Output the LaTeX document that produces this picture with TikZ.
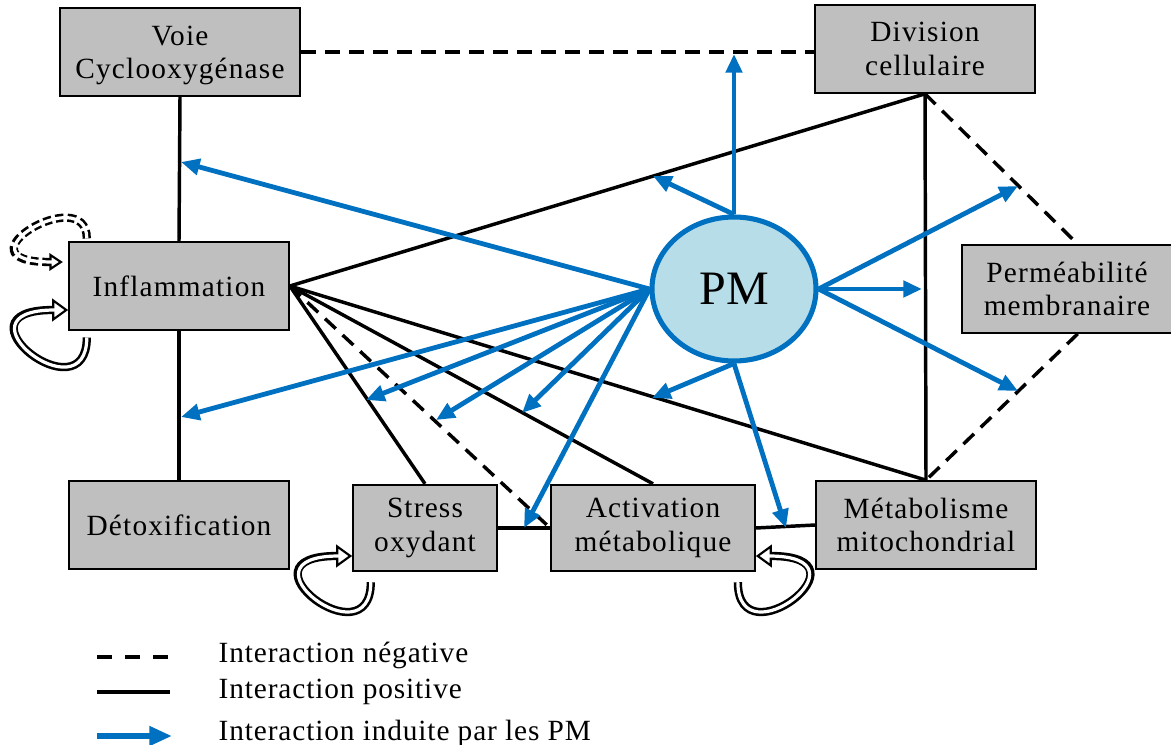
\documentclass[tikz,border=0pt]{standalone}
\usepackage{fontspec}
\setmainfont{Liberation Serif}[LetterSpace=4]
\newfontfamily\pmfont{Liberation Serif}
\usetikzlibrary{shapes.geometric, arrows.meta, positioning, calc}
\definecolor{cBox}{HTML}{BFBFBF}
\definecolor{cBlue}{HTML}{0070C0}
\definecolor{cPM}{HTML}{B7DDE8}
\tikzset{
  procbox/.style={
    draw=black, fill=cBox, line width=1.3pt,
    minimum width=#1, minimum height=66pt,
    font=\fontsize{22}{25}\selectfont, align=center, inner sep=2pt,
  },
  procbox/.default=165pt,
  pmnode/.style={
    ellipse, draw=cBlue, fill=cPM, line width=3.8pt,
    minimum width=123pt, minimum height=108pt,
    font=\pmfont\fontsize{36}{40}\selectfont,
  },
  posline/.style={line width=2.6pt},
  negline/.style={line width=2.6pt, dash pattern=on 11pt off 7pt},
  pmarrow/.style={line width=3.6pt, color=cBlue, -{Triangle[length=14pt, width=12pt]}},
  selfloop/.style={draw=white, line width=2.4pt, shorten >=10pt,
    preaction={draw=black, line width=6.2pt, shorten >=0pt,
      -{Triangle[open, length=12pt, width=17pt, line width=1.6pt, fill=white]}}},
  negloop/.style={draw=white, line width=2.4pt, shorten >=8pt,
    preaction={draw=black, line width=6.2pt, shorten >=0pt, dash pattern=on 6pt off 3pt,
      -{Triangle[open, length=10pt, width=13pt, line width=1.6pt, fill=white]}}},
  loopleft/.style={to path={.. controls +(0,80) and +(-120,0) .. (\tikztotarget)}},
  loopup/.style={to path={.. controls +(0,-58) and +(-112,0) .. (\tikztotarget)}},
  loopright/.style={to path={.. controls +(0,80) and +(120,0) .. (\tikztotarget)}},
  legtext/.style={anchor=west, font=\addfontfeatures{LetterSpace=3}\fontsize{22}{26}\selectfont},
}

\begin{document}
\begin{tikzpicture}[x=0.75pt, y=-0.75pt]
  \useasboundingbox (0,0) rectangle (1171,745);

  % Boxes
  \node[procbox=180pt, text depth=0pt] (cox) at (180,52) {Voie\\Cyclooxygénase};
  \node[procbox] (div) at (925,49) {Division\\cellulaire};
  \node[procbox] (infl) at (179,286) {Inflammation};
  \node[procbox=157.5pt] (perm) at (1067,289) {Perméabilité\\membranaire};
  \node[procbox] (detox) at (179,525) {Détoxification};
  \node[procbox=108pt, minimum height=65pt] (stress) at (425,528) {Stress\\oxydant};
  \node[procbox=153pt, minimum height=65pt] (act) at (653,528) {Activation\\métabolique};
  \node[procbox] (meta) at (926,525) {Métabolisme\\mitochondrial};

  % Interactions between boxes
  \draw[negline] (cox.east) -- (cox.east -| div.west);
  \draw[posline] (cox.south) -- (infl.north);
  \draw[posline] (infl.south) -- (detox.north);
  \draw[posline] (div.south) -- (meta.north);
  \draw[posline] (infl.east) -- (div.south);
  \draw[posline] (infl.east) -- (stress.north);
  \draw[negline] (infl.east) -- (act.west);
  \draw[posline] (infl.east) -- (act.north);
  \draw[posline] (infl.east) -- (meta.north);
  \draw[negline] (div.south) -- ([xshift=8pt]perm.north);
  \draw[negline] ([xshift=8pt]perm.south) -- (meta.north);
  \draw[posline] (stress.east) -- (act.west);
  \draw[posline] (act.east) -- (meta.west);

  % Self loops
  \draw[negloop, loopup] ([xshift=14pt,yshift=2pt]infl.north west) to ([xshift=-4pt,yshift=18pt]infl.west);
  \draw[selfloop, loopleft] ([xshift=14pt,yshift=-5pt]infl.south west) to ([yshift=-18pt]infl.west);
  \draw[selfloop, loopleft] ([xshift=14pt,yshift=-7.5pt]stress.south west) to ([yshift=-21pt]stress.west);
  \draw[selfloop, loopright] ([xshift=-13.5pt,yshift=-7.5pt]act.south east) to ([yshift=-21pt]act.east);

  % PM and its targets
  \node[pmnode] (pm) at (734,289) {PM};

  \coordinate (tDiv) at (734,54);
  \coordinate (tInfDiv) at (653,176);
  \coordinate (tCoxInf) at (181,162);
  \coordinate (tInfDet) at (181,417);
  \coordinate (tInfStr) at (366,400);
  \coordinate (tInfNeg) at (436,420);
  \coordinate (tInfAct) at (522,413);
  \coordinate (tStrAct) at (524,528);
  \coordinate (tInfMet) at (652,398);
  \coordinate (tActMet) at (786,528);
  \coordinate (tDivPerm) at (1018,186);
  \coordinate (tDivMet) at (922,289);
  \coordinate (tPermMet) at (1018,391);

  \draw[pmarrow] (pm.north) -- (tDiv);
  \draw[pmarrow] (pm.north) -- (tInfDiv);
  \foreach \t in {tCoxInf, tInfDet, tInfStr, tInfNeg, tInfAct, tStrAct}
    \draw[pmarrow] (pm.west) -- (\t);
  \draw[pmarrow] (pm.south) -- (tInfMet);
  \draw[pmarrow] (pm.south) -- (tActMet);
  \foreach \t in {tDivPerm, tDivMet, tPermMet}
    \draw[pmarrow] (pm.east) -- (\t);

  % Legend
  \coordinate (lgNa) at (97,657);
  \coordinate (lgNb) at (170,657);
  \coordinate (lgPa) at (97,692);
  \coordinate (lgPb) at (170,692);
  \coordinate (lgIa) at (97,736);
  \coordinate (lgIb) at (172,736);
  \draw[line width=3.3pt, dash pattern=on 11pt off 10pt] (lgNa) -- (lgNb);
  \draw[line width=3.3pt] (lgPa) -- (lgPb);
  \draw[line width=4.2pt, color=cBlue, -{Triangle[length=17pt, width=14pt]}] (lgIa) -- (lgIb);
  \node[legtext] (lgN) at (214,655) {Interaction négative};
  \node[legtext] (lgP) at (214,692) {Interaction positive};
  \node[legtext] (lgI) at (214,733) {Interaction induite par les PM};

\end{tikzpicture}
\end{document}
